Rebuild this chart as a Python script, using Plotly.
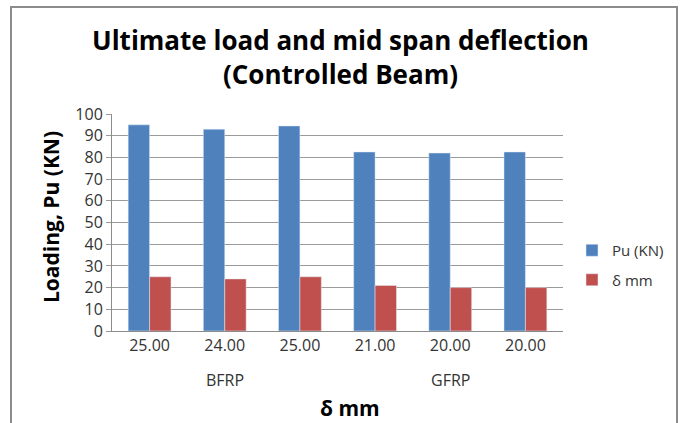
import plotly.graph_objects as go

groups = ["BFRP", "BFRP", "BFRP", "GFRP", "GFRP", "GFRP"]
delta_mm = [25.00, 24.00, 25.00, 21.00, 20.00, 20.00]
pu_kn = [95.0, 93.0, 94.5, 82.5, 82.0, 82.5]
y_ticks = [0, 10, 20, 30, 40, 50, 60, 70, 80, 90, 100]

x_pos = list(range(len(delta_mm)))
tick_text = [f"{v:.2f}" for v in delta_mm]

W, H = 681, 423
L, R, T, B = 112, 118, 114, 92
pw, ph = W - L - R, H - T - B

def px_x(p):
    return (p - L) / pw

def px_y(p):
    return (H - B - p) / ph

font_fam = "Open Sans, Liberation Sans, sans-serif"

fig = go.Figure()
fig.add_trace(go.Bar(x=x_pos, y=pu_kn, name="Pu (KN)", marker_color="#4F81BD",
                     legendgroup="a"))
fig.add_trace(go.Bar(x=x_pos, y=delta_mm, name="δ mm", marker_color="#C0504D",
                     legendgroup="b"))

annotations = []
uniq = []
for g in groups:
    if g not in uniq:
        uniq.append(g)
for g in uniq:
    idx = [i for i, gg in enumerate(groups) if gg == g]
    annotations.append(dict(x=sum(idx) / len(idx), xref="x", y=px_y(380), yref="paper",
                            text=g, showarrow=False, yanchor="middle",
                            font=dict(size=16, color="#333333", family=font_fam)))
annotations.append(dict(x=px_x(350), xref="paper", y=px_y(408), yref="paper",
                        text="<b>δ mm</b>", showarrow=False, yanchor="middle",
                        font=dict(size=21, color="#000000", family=font_fam)))
annotations.append(dict(x=px_x(51), xref="paper", y=px_y(217), yref="paper",
                        text="<b>Loading, Pu (KN)</b>", showarrow=False, textangle=-90,
                        xanchor="center", yanchor="middle",
                        font=dict(size=21, color="#000000", family=font_fam)))

fig.update_layout(
    width=W, height=H,
    margin=dict(l=L, r=R, t=T, b=B, autoexpand=False),
    paper_bgcolor="white", plot_bgcolor="white",
    barmode="group", bargap=0.43, bargroupgap=0,
    title=dict(text="<b>Ultimate load and mid span deflection<br>(Controlled Beam)</b>",
               x=0.5, xanchor="center", y=1 - 50 / H, yanchor="middle",
               font=dict(size=26, color="#000000", family=font_fam)),
    legend=dict(x=px_x(572), xanchor="left", y=px_y(234), yanchor="top",
                font=dict(size=15, color="#333333", family=font_fam),
                tracegroupgap=7, traceorder="grouped", bgcolor="rgba(0,0,0,0)"),
    annotations=annotations,
    shapes=[dict(type="rect", xref="paper", yref="paper",
                 x0=px_x(11), x1=px_x(677), y0=px_y(440), y1=px_y(7),
                 line=dict(color="#8c8c8c", width=2), layer="below")],
    font=dict(family=font_fam),
)
fig.update_xaxes(range=[-0.5, len(x_pos) - 0.5], tickmode="array", tickvals=x_pos,
                 ticktext=tick_text, showline=True, linecolor="#8c8c8c", linewidth=1,
                 showgrid=False, ticks="", zeroline=False,
                 tickfont=dict(size=16, color="#333333", family=font_fam))
fig.update_yaxes(range=[0, 100], tickmode="array", tickvals=y_ticks,
                 showline=True, linecolor="#8c8c8c", linewidth=1,
                 showgrid=True, gridcolor="#9a9a9a", gridwidth=1, zeroline=False,
                 ticks="outside", ticklen=5, tickcolor="#9a9a9a",
                 tickfont=dict(size=16, color="#333333", family=font_fam))

fig.write_html("out.html")
